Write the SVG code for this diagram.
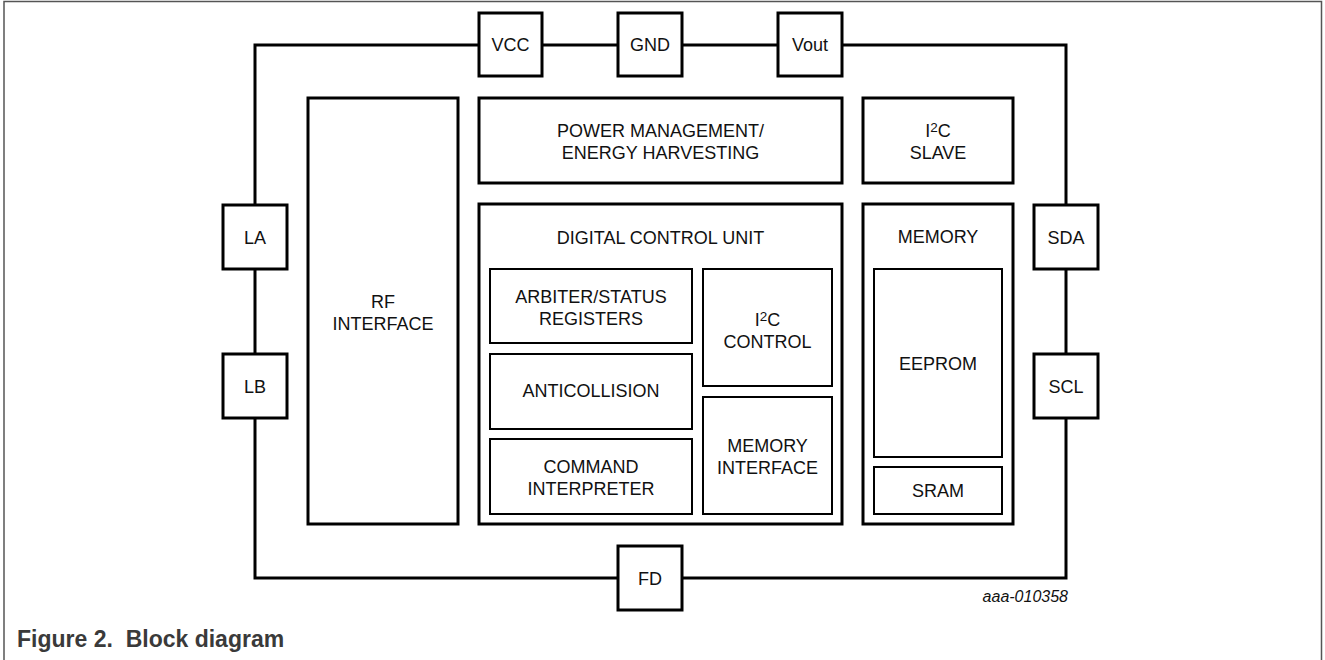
<svg xmlns="http://www.w3.org/2000/svg" width="1325" height="660" viewBox="0 0 1325 660">
<style>
  .pin { fill: #fff; stroke: #000; stroke-width: 3; }
  .blk { fill: #fff; stroke: #000; stroke-width: 3; }
  .sub { fill: #fff; stroke: #000; stroke-width: 2; }
  .wire { fill: none; stroke: #000; stroke-width: 3; }
  text { font-family: "Liberation Sans", Arial, sans-serif; font-size: 18px; fill: #111; text-anchor: middle; }
  .sup { font-size: 13.5px; }
  .cap { font-size: 23px; font-weight: bold; fill: #3a3a3a; text-anchor: start; white-space: pre; }
  .code { font-size: 16px; font-style: italic; text-anchor: end; }
</style>
<rect x="0" y="0" width="1325" height="660" fill="#fff"/>
<path d="M4,660 V1.5 H1321.5 V660" fill="none" stroke="#555" stroke-width="1.5"/>
<g id="connectors">
  <path class="wire" d="M255,205 V45 H1066 V205 M255,269 V354 M1066,269 V354 M255,418 V578 H1066 V418"/>
</g>
<g id="VCC"><rect class="pin" x="479" y="13" width="63" height="63"/><text x="510.5" y="51">VCC</text></g>
<g id="GND"><rect class="pin" x="618" y="13" width="64" height="63"/><text x="650" y="51">GND</text></g>
<g id="Vout"><rect class="pin" x="778" y="13" width="64" height="63"/><text x="810" y="51">Vout</text></g>
<g id="LA"><rect class="pin" x="223" y="205" width="64" height="64"/><text x="255" y="243.5">LA</text></g>
<g id="LB"><rect class="pin" x="223" y="354" width="64" height="64"/><text x="255" y="392.5">LB</text></g>
<g id="SDA"><rect class="pin" x="1034" y="205" width="64" height="64"/><text x="1066" y="243.5">SDA</text></g>
<g id="SCL"><rect class="pin" x="1034" y="354" width="64" height="64"/><text x="1066" y="392.5">SCL</text></g>
<g id="FD"><rect class="pin" x="618" y="546" width="64" height="64"/><text x="650" y="584.5">FD</text></g>
<g id="rf-interface"><rect class="blk" x="308" y="98" width="150" height="426"/><text x="383" y="308">RF</text><text x="383" y="330">INTERFACE</text></g>
<g id="power-management"><rect class="blk" x="479" y="98" width="363" height="85"/><text x="660.5" y="137">POWER MANAGEMENT/</text><text x="660.5" y="159">ENERGY HARVESTING</text></g>
<g id="i2c-slave"><rect class="blk" x="863" y="98" width="150" height="85"/><text x="938" y="137">I<tspan class="sup" dy="-5">2</tspan><tspan dy="5">C</tspan></text><text x="938" y="159">SLAVE</text></g>
<g id="digital-control-unit"><rect class="blk" x="479" y="204" width="363" height="320"/><text x="660.5" y="244">DIGITAL CONTROL UNIT</text></g>
<g id="arbiter"><rect class="sub" x="490" y="269" width="202" height="74"/><text x="591" y="303">ARBITER/STATUS</text><text x="591" y="325">REGISTERS</text></g>
<g id="anticollision"><rect class="sub" x="490" y="354" width="202" height="75"/><text x="591" y="397">ANTICOLLISION</text></g>
<g id="command-interpreter"><rect class="sub" x="490" y="439" width="202" height="75"/><text x="591" y="472.5">COMMAND</text><text x="591" y="495">INTERPRETER</text></g>
<g id="i2c-control"><rect class="sub" x="703" y="269" width="129" height="117"/><text x="767.5" y="326">I<tspan class="sup" dy="-5">2</tspan><tspan dy="5">C</tspan></text><text x="767.5" y="348">CONTROL</text></g>
<g id="memory-interface"><rect class="sub" x="703" y="397" width="129" height="117"/><text x="767.5" y="452">MEMORY</text><text x="767.5" y="473.5">INTERFACE</text></g>
<g id="memory"><rect class="blk" x="863" y="204" width="150" height="320"/><text x="938" y="243">MEMORY</text></g>
<g id="eeprom"><rect class="sub" x="874" y="269" width="128" height="188"/><text x="938" y="369.5">EEPROM</text></g>
<g id="sram"><rect class="sub" x="874" y="467" width="128" height="47"/><text x="938" y="497">SRAM</text></g>
<text class="code" x="1068" y="602">aaa-010358</text>
<text class="cap" x="17" y="647" xml:space="preserve">Figure 2.  Block diagram</text>
</svg>
